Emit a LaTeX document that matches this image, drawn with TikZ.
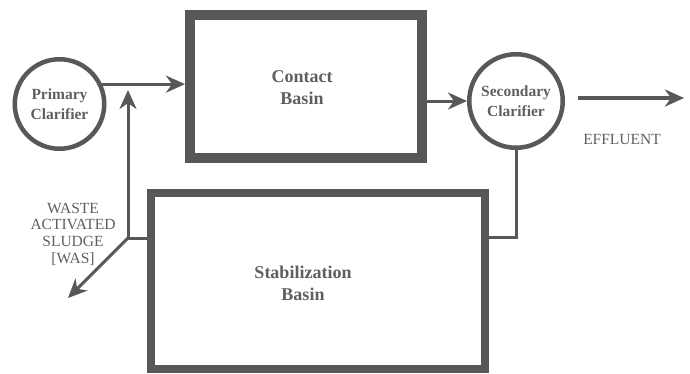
\documentclass[tikz,border=0pt]{standalone}
\usepackage{fontspec}
\setmainfont{Liberation Serif}
\usetikzlibrary{arrows.meta}
\definecolor{ln}{RGB}{88,88,88}
\definecolor{tx}{RGB}{95,95,95}
\begin{document}
\begin{tikzpicture}[x=1pt,y=-1pt,
  tank/.style={circle,draw=ln,line width=4.5pt,inner sep=0pt,text=tx,align=center,font=\bfseries\fontsize{15.5}{19.5}\selectfont},
  basin/.style={rectangle,draw=ln,inner sep=0pt},
  lbl/.style={text=tx,align=center,inner sep=0pt,font=\bfseries\fontsize{18}{22}\selectfont},
  note/.style={text=tx,align=center,inner sep=0pt,font=\fontsize{15.5}{16.7}\selectfont},
  flow/.style={draw=ln,line width=3pt},
  tip/.style={-{Stealth[length=19pt,width=17pt,inset=6pt]}}
]
\useasboundingbox (0,0) rectangle (690,373);
\node[tank,minimum size=89.5pt] (pc) at (59.5,104) {Primary\\Clarifier};
\node[tank,minimum size=93.5pt] (sc) at (516,101) {Secondary\\Clarifier};
\node[basin,line width=10pt,minimum width=232pt,minimum height=143pt] (cb) at (306,86.5) {};
\node[lbl] (cbt) at (302,88) {Contact\\Basin};
\node[basin,line width=8pt,minimum width=334pt,minimum height=176pt] (sb) at (318,281) {};
\node[lbl] (sbt) at (303,283) {Stabilization\\Basin};
\coordinate (k) at (128,238);
\coordinate (jt) at (128,90);
\coordinate (w) at (68,298);
\coordinate (e1) at (578,98);
\coordinate (e2) at (684,98);
\coordinate (r) at (515,237);
\draw[flow,tip] (pc.25) -- (pc.25 -| cb.west);
\draw[flow,tip] (sb.west |- k) -- (k) -- (jt);
\draw[flow,tip] (k) -- (w);
\draw[flow,tip] (cb.east |- sc.west) -- (sc.west);
\draw[flow,line width=4pt,tip] (e1) -- (e2);
\draw[flow] (sc.south) -- (sc.south |- r) -- (sb.east |- r);
\node[note] (eff) at (622,139) {EFFLUENT};
\node[note] (was) at (73,234) {WASTE\\ACTIVATED\\SLUDGE\\{[WAS]}};
\end{tikzpicture}
\end{document}
